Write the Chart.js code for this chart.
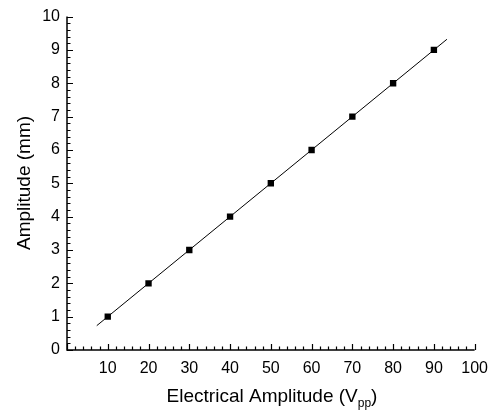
<!DOCTYPE html>
<html>
<head>
<meta charset="utf-8">
<script src="https://cdn.jsdelivr.net/npm/chart.js@4"></script>
<style>
	html, body { margin: 0; padding: 0; background: #fff; }
	#wrap { width: 497px; height: 412px; }
</style>
</head>
<body>
<div id="wrap"><canvas id="chartAmp" width="497" height="412"></canvas></div>
<script>
'use strict'

// measured points
const voltage = [10, 20, 30, 40, 50, 60, 70, 80, 90];
const amplitude = [1, 2, 3, 4, 5, 6, 7, 8, 9];

// linear fit line (end points)
const fitX = [7.3, 93.2];
const fitY = [0.73, 9.32];

const xTicks = [10, 20, 30, 40, 50, 60, 70, 80, 90, 100];
const yTicks = [0, 1, 2, 3, 4, 5, 6, 7, 8, 9, 10];

const font = "'Liberation Sans', Arial, sans-serif";

// axes with inward major/minor ticks and the axis titles
const axesPlugin = {
	id: 'axesPlugin',
	afterDraw(chart) {
		const { ctx, chartArea: { left, right, top, bottom } } = chart;
		const xs = chart.scales.x;
		const ys = chart.scales.y;
		ctx.save();
		ctx.strokeStyle = '#000';
		ctx.lineWidth = 1.5;
		ctx.beginPath();
		ctx.moveTo(left, top);
		ctx.lineTo(left, bottom);
		ctx.lineTo(right, bottom);
		ctx.stroke();

		ctx.lineWidth = 1.2;
		ctx.beginPath();
		for (let v = 0; v <= 100; v += 2) {
			const px = Math.round(xs.getPixelForValue(v)) + 0.5;
			const len = v % 10 === 0 ? 6 : 3.5;
			ctx.moveTo(px, bottom);
			ctx.lineTo(px, bottom - len);
		}
		for (let i = 0; i <= 50; i++) {
			const py = Math.round(ys.getPixelForValue(i / 5)) + 0.5;
			const len = i % 5 === 0 ? 6 : 3.5;
			ctx.moveTo(left, py);
			ctx.lineTo(left + len, py);
		}
		ctx.stroke();

		// x title with subscript
		ctx.fillStyle = '#000';
		ctx.textBaseline = 'alphabetic';
		ctx.textAlign = 'left';
		const main = 'Electrical Amplitude (V';
		const sub = 'pp';
		const close = ')';
		ctx.font = '19px ' + font;
		const w1 = ctx.measureText(main).width;
		const w3 = ctx.measureText(close).width;
		ctx.font = '12px ' + font;
		const w2 = ctx.measureText(sub).width;
		let x0 = 272 - (w1 + w2 + w3) / 2;
		const base = 402;
		ctx.font = '19px ' + font;
		ctx.fillText(main, x0, base);
		ctx.font = '12px ' + font;
		ctx.fillText(sub, x0 + w1, base + 5);
		ctx.font = '19px ' + font;
		ctx.fillText(close, x0 + w1 + w2, base);

		// y title
		ctx.translate(25, 183);
		ctx.rotate(-Math.PI / 2);
		ctx.textAlign = 'center';
		ctx.textBaseline = 'middle';
		ctx.fillText('Amplitude (mm)', 0, 0);
		ctx.restore();
	},
};

new Chart(document.getElementById('chartAmp'), {
	type: 'scatter',
	data: {
		datasets: [
			{
				label: 'Fit',
				data: fitX.map((x, i) => ({ x: x, y: fitY[i] })),
				showLine: true,
				borderColor: '#000',
				borderWidth: 1,
				pointRadius: 0,
				order: 2,
			},
			{
				label: 'Data',
				data: voltage.map((x, i) => ({ x: x, y: amplitude[i] })),
				pointStyle: 'rect',
				pointRadius: 4.5,
				backgroundColor: '#000',
				borderColor: '#000',
				borderWidth: 0,
				order: 1,
			},
		],
	},
	options: {
		responsive: false,
		animation: false,
		layout: {
			padding: { left: 0, top: 16, right: 20, bottom: 0 },
		},
		plugins: {
			legend: { display: false },
			tooltip: { enabled: false },
		},
		scales: {
			x: {
				type: 'linear',
				min: 0,
				max: 100,
				afterBuildTicks: (scale) => { scale.ticks = xTicks.map(v => ({ value: v })); },
				afterFit: (scale) => { scale.height = 62; },
				grid: { display: false, drawTicks: false },
				border: { display: false },
				ticks: {
					color: '#000',
					font: { family: font, size: 16 },
					padding: 9,
					maxRotation: 0,
					autoSkip: false,
				},
			},
			y: {
				type: 'linear',
				min: 0,
				max: 10,
				afterBuildTicks: (scale) => { scale.ticks = yTicks.map(v => ({ value: v })); },
				afterFit: (scale) => { scale.width = 67; },
				grid: { display: false, drawTicks: false },
				border: { display: false },
				ticks: {
					color: '#000',
					font: { family: font, size: 16 },
					padding: 7,
					autoSkip: false,
				},
			},
		},
	},
	plugins: [axesPlugin],
});
</script>
</body>
</html>
